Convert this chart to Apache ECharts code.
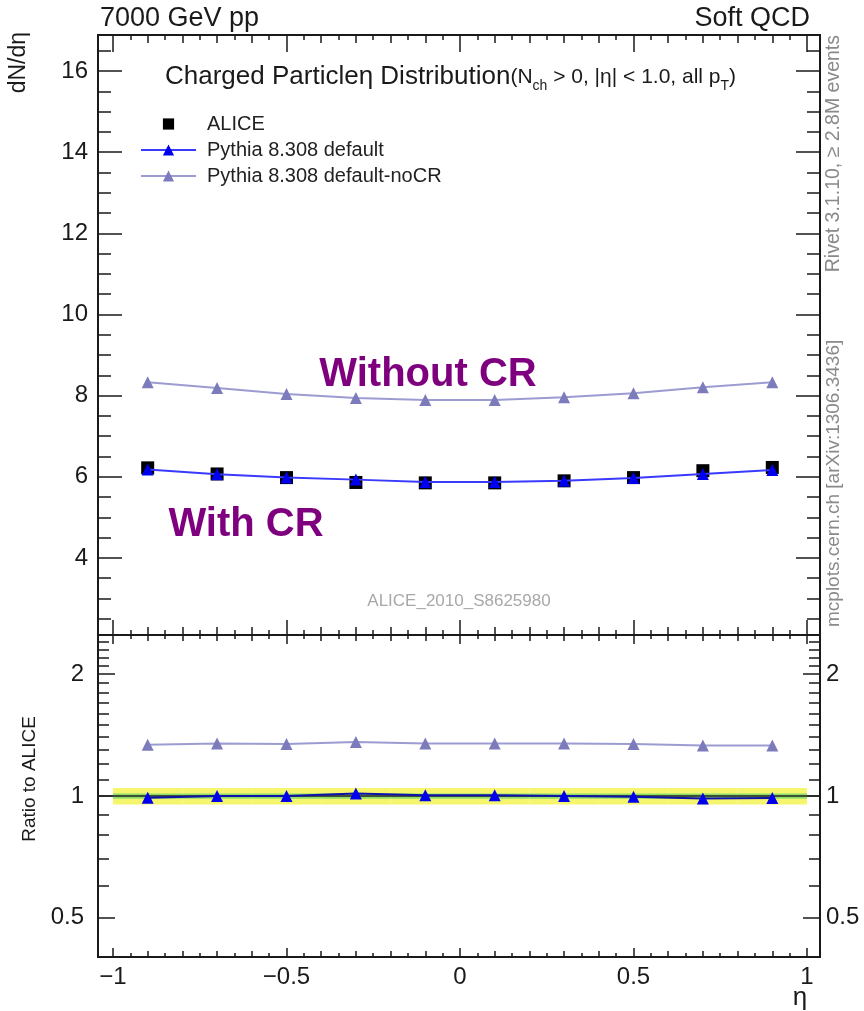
<!DOCTYPE html>
<html>
<head>
<meta charset="utf-8">
<title>Charged particle η distribution</title>
<script src="https://cdn.jsdelivr.net/npm/echarts@6.0.0/dist/echarts.min.js"></script>
<style>
  html, body { margin: 0; padding: 0; background: #ffffff; }
  #chart { width: 864px; height: 1011px; }
</style>
</head>
<body>
<div id="chart"></div>
<script>
// η bins
const etaCentres = [-0.9, -0.7, -0.5, -0.3, -0.1, 0.1, 0.3, 0.5, 0.7, 0.9];
const binLow     = [-1.0, -0.8, -0.6, -0.4, -0.2, 0.0, 0.2, 0.4, 0.6, 0.8];
const binHigh    = [-0.8, -0.6, -0.4, -0.2, 0.0, 0.2, 0.4, 0.6, 0.8, 1.0];

// dN/dη
const aliceData     = [6.22, 6.07, 5.98, 5.86, 5.85, 5.85, 5.90, 5.98, 6.15, 6.23];
const pythiaDefault = [6.18, 6.06, 5.98, 5.93, 5.87, 5.87, 5.90, 5.97, 6.07, 6.17];
const pythiaNoCR    = [8.33, 8.19, 8.04, 7.94, 7.89, 7.89, 7.96, 8.06, 8.21, 8.33];

// ratio to ALICE
const ratioDefault = [0.990, 1.000, 1.000, 1.015, 1.004, 1.004, 1.000, 0.996, 0.986, 0.988];
const ratioNoCR    = [1.338, 1.349, 1.345, 1.360, 1.349, 1.349, 1.349, 1.345, 1.333, 1.333];

// ALICE relative uncertainty band: total and statistical
const bandTotLow   = [0.953, 0.953, 0.953, 0.953, 0.953, 0.953, 0.953, 0.953, 0.953, 0.953];
const bandTotHigh  = [1.047, 1.047, 1.047, 1.047, 1.047, 1.047, 1.047, 1.047, 1.047, 1.047];
const bandStatLow  = [0.985, 0.985, 0.985, 0.985, 0.985, 0.985, 0.985, 0.985, 0.985, 0.985];
const bandStatHigh = [1.015, 1.015, 1.015, 1.015, 1.015, 1.015, 1.015, 1.015, 1.015, 1.015];

// tick positions
const xMajor = [-1, -0.5, 0, 0.5, 1];
const xMid = [], xMinor = [];
for (let i = -20; i <= 20; i++) {
  const v = +(i * 0.05).toFixed(2);
  if (i % 10 === 0) continue;
  if (i % 2 === 0) xMid.push(v); else xMinor.push(v);
}
const yMainMajor = [4, 6, 8, 10, 12, 14, 16];
const yMainMinor = [];
for (let v = 2.5; v <= 16.5; v += 0.5) if (yMainMajor.indexOf(v) < 0) yMainMinor.push(v);
const yRatioMajor = [0.5, 1, 2];
const yRatioMinor = [0.6, 0.7, 0.8, 0.9, 1.1, 1.2, 1.3, 1.4, 1.5, 1.6, 1.7, 1.8, 1.9, 2.1, 2.2, 2.3, 2.4];

const X_MIN = -1.0432, X_MAX = 1.0375;
const Y_MIN = 2.1, Y_MAX = 16.89;
const R_MIN = 0.4, R_MAX = 2.5;

const FONT = "'Liberation Sans', Arial, Helvetica, sans-serif";
const INK = '#1a1a1a';
const BLUE = '#0000ee';
const BLUE_LINE = '#3a3aff';
const LAV = '#7c7cbc';
const LAV_LINE = '#9c9cd2';
const PURPLE = '#7f007f';

const fmtMinus = v => (v < 0 ? '\u2212' + String(-v) : String(v));

// axes are stacked per side: one axis per tick level
const xAxes = [], yAxes = [];
function addX(grid, pos, ticks, len, label) {
  xAxes.push({
    type: 'value', gridIndex: grid, position: pos, min: X_MIN, max: X_MAX,
    axisLine: { show: true, onZero: false, lineStyle: { color: INK, width: 2 } },
    axisTick: { show: true, inside: true, length: len, customValues: ticks,
                lineStyle: { color: INK, width: 1.5 } },
    axisLabel: label ? { show: true, customValues: xMajor, formatter: fmtMinus,
                         fontFamily: FONT, fontSize: 24, color: INK, margin: 8 }
                     : { show: false },
    splitLine: { show: false }
  });
  return xAxes.length - 1;
}
function addY(grid, pos, type, min, max, ticks, len, label, labelVals) {
  const ax = {
    type: type, gridIndex: grid, position: pos, min: min, max: max,
    axisLine: { show: true, onZero: false, lineStyle: { color: INK, width: 2 } },
    axisTick: { show: true, inside: true, length: len, customValues: ticks,
                lineStyle: { color: INK, width: 1.5 } },
    axisLabel: label ? { show: true, customValues: labelVals,
                         fontFamily: FONT, fontSize: 24, color: INK, margin: label }
                     : { show: false },
    splitLine: { show: false }
  };
  if (type === 'log') ax.logBase = 10;
  yAxes.push(ax);
  return yAxes.length - 1;
}

// main panel (grid 0)
const xMain = addX(0, 'bottom', xMajor, 15, false);
addX(0, 'bottom', xMid, 8, false);
addX(0, 'bottom', xMinor, 5, false);
addX(0, 'top', xMajor, 17, false);
addX(0, 'top', xMid, 8, false);
addX(0, 'top', xMinor, 5, false);
const yMain = addY(0, 'left', 'value', Y_MIN, Y_MAX, yMainMajor, 24, 10, yMainMajor);
addY(0, 'left', 'value', Y_MIN, Y_MAX, yMainMinor, 13, 0);
addY(0, 'right', 'value', Y_MIN, Y_MAX, yMainMajor, 24, 0);
addY(0, 'right', 'value', Y_MIN, Y_MAX, yMainMinor, 13, 0);

// ratio panel (grid 1)
const xRatio = addX(1, 'bottom', xMajor, 9, true);
addX(1, 'bottom', xMid, 6, false);
addX(1, 'bottom', xMinor, 4, false);
addX(1, 'top', xMajor, 9, false);
addX(1, 'top', xMid, 6, false);
addX(1, 'top', xMinor, 4, false);
const yRatio = addY(1, 'left', 'log', R_MIN, R_MAX, yRatioMajor, 17, 14, yRatioMajor);
addY(1, 'left', 'log', R_MIN, R_MAX, yRatioMinor, 11, 0);
addY(1, 'right', 'log', R_MIN, R_MAX, yRatioMajor, 17, 6, yRatioMajor);
addY(1, 'right', 'log', R_MIN, R_MAX, yRatioMinor, 11, 0);

function bandSeries(lowArr, highArr, colour, z) {
  return {
    type: 'custom', name: 'band', xAxisIndex: xRatio, yAxisIndex: yRatio, z: z, silent: true,
    data: binLow.map((lo, i) => [lo, binHigh[i], lowArr[i], highArr[i]]),
    encode: { x: [0, 1], y: [2, 3] },
    renderItem: function (params, api) {
      const a = api.coord([api.value(0), api.value(3)]);
      const b = api.coord([api.value(1), api.value(2)]);
      return { type: 'rect', shape: { x: a[0], y: a[1], width: b[0] - a[0], height: b[1] - a[1] },
               style: { fill: colour } };
    }
  };
}

const pairs = ys => etaCentres.map((x, i) => [x, ys[i]]);

const option = {
  animation: false,
  backgroundColor: '#ffffff',
  grid: [
    { left: 98, top: 35, width: 722, height: 600, containLabel: false },
    { left: 98, top: 635, width: 722, height: 322, containLabel: false }
  ],
  xAxis: xAxes,
  yAxis: yAxes,
  legend: {
    left: 135, top: 109, orient: 'vertical', selectedMode: false,
    itemWidth: 55, itemHeight: 14, itemGap: 6,
    data: ['ALICE', 'Pythia 8.308 default', 'Pythia 8.308 default-noCR'],
    textStyle: { fontFamily: FONT, fontSize: 20, lineHeight: 20, color: '#222', padding: [0, 0, 0, 6] }
  },
  series: [
    bandSeries(bandTotLow, bandTotHigh, '#f6f66e', 1),
    bandSeries(bandStatLow, bandStatHigh, '#8edc6a', 2),
    {
      type: 'line', name: 'Pythia 8.308 default-noCR', xAxisIndex: xMain, yAxisIndex: yMain,
      data: pairs(pythiaNoCR), symbol: 'triangle', symbolSize: 12, z: 3,
      lineStyle: { color: LAV_LINE, width: 2 }, itemStyle: { color: LAV }
    },
    {
      type: 'line', name: 'ALICE', xAxisIndex: xMain, yAxisIndex: yMain,
      data: pairs(aliceData), symbol: 'rect', symbolSize: 13, z: 4,
      lineStyle: { width: 0, opacity: 0 }, itemStyle: { color: '#000' }
    },
    {
      type: 'line', name: 'Pythia 8.308 default', xAxisIndex: xMain, yAxisIndex: yMain,
      data: pairs(pythiaDefault), symbol: 'triangle', symbolSize: 12, z: 5,
      lineStyle: { color: BLUE_LINE, width: 2 }, itemStyle: { color: BLUE }
    },
    {
      type: 'line', name: 'ratio noCR', xAxisIndex: xRatio, yAxisIndex: yRatio,
      data: pairs(ratioNoCR), symbol: 'triangle', symbolSize: 12, z: 4,
      lineStyle: { color: LAV_LINE, width: 2 }, itemStyle: { color: LAV }
    },
    {
      type: 'line', name: 'ratio default', xAxisIndex: xRatio, yAxisIndex: yRatio,
      data: pairs(ratioDefault), symbol: 'triangle', symbolSize: 12, z: 5,
      lineStyle: { color: '#1010aa', width: 2 }, itemStyle: { color: BLUE },
      markLine: { silent: true, symbol: 'none', label: { show: false },
                  lineStyle: { color: '#222', width: 1.5, type: 'solid' },
                  data: [{ yAxis: 1 }] }
    }
  ],
  graphic: [
    { type: 'text', left: 100, top: 5,
      style: { text: '7000 GeV pp', font: '27px ' + FONT, fill: INK } },
    { type: 'text', right: 54, top: 5,
      style: { text: 'Soft QCD', font: '27px ' + FONT, fill: INK } },
    { type: 'text', x: 165, y: 77,
      style: {
        text: '{a|Charged Particle\u03b7 Distribution}{b|(N}{s|ch}{b| > 0, |\u03b7| < 1.0, all p}{s|T}{b|)}',
        verticalAlign: 'middle',
        rich: {
          a: { font: '26px ' + FONT, fill: INK, lineHeight: 32, verticalAlign: 'middle' },
          b: { font: '21px ' + FONT, fill: INK, lineHeight: 32, verticalAlign: 'middle' },
          s: { font: '14px ' + FONT, fill: INK, lineHeight: 32, verticalAlign: 'bottom' }
        }
      } },
    { type: 'text', x: 428, y: 375,
      style: { text: 'Without CR', font: 'bold 40px ' + FONT, fill: PURPLE, align: 'center', verticalAlign: 'middle' } },
    { type: 'text', x: 246, y: 525,
      style: { text: 'With CR', font: 'bold 40px ' + FONT, fill: PURPLE, align: 'center', verticalAlign: 'middle' } },
    { type: 'text', x: 459, y: 601,
      style: { text: 'ALICE_2010_S8625980', font: '17px ' + FONT, fill: '#a8a8a8', align: 'center', verticalAlign: 'middle' } },
    { type: 'text', x: 19, y: 32, rotation: Math.PI / 2,
      style: { text: 'dN/d\u03b7', font: '23px ' + FONT, fill: INK, align: 'right', verticalAlign: 'middle' } },
    { type: 'text', x: 30, y: 779, rotation: Math.PI / 2,
      style: { text: 'Ratio to ALICE', font: '19px ' + FONT, fill: INK, align: 'center', verticalAlign: 'middle' } },
    { type: 'text', x: 834, y: 35, rotation: Math.PI / 2,
      style: { text: 'Rivet 3.1.10, \u2265 2.8M events', font: '19.5px ' + FONT, fill: '#8a8a8a', align: 'right', verticalAlign: 'middle' } },
    { type: 'text', x: 834, y: 627, rotation: Math.PI / 2,
      style: { text: 'mcplots.cern.ch [arXiv:1306.3436]', font: '19px ' + FONT, fill: '#8a8a8a', align: 'left', verticalAlign: 'middle' } },
    { type: 'text', x: 800, y: 998,
      style: { text: '\u03b7', font: '26px ' + FONT, fill: INK, align: 'center', verticalAlign: 'middle' } }
  ]
};

const chart = echarts.init(document.getElementById('chart'), null, { renderer: 'canvas' });
chart.setOption(option);
</script>
</body>
</html>
